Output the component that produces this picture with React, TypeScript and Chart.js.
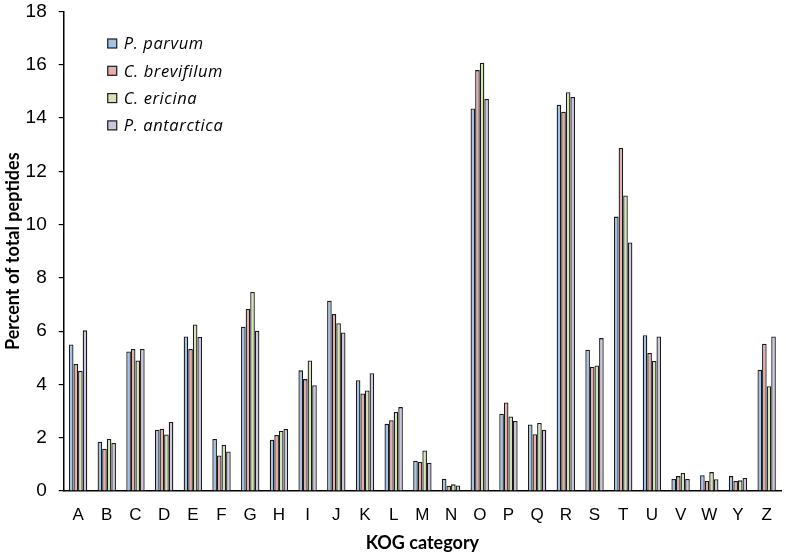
import React, { useEffect, useRef } from "react";
import { Chart, registerables } from "chart.js";

Chart.register(...registerables);

const categories = ["A","B","C","D","E","F","G","H","I","J","K","L","M","N","O","P","Q","R","S","T","U","V","W","Y","Z"];
const seriesNames = ["P. parvum", "C. brevifilum", "C. ericina", "P. antarctica"];
const pParvum = [5.5,1.85,5.24,2.3,5.8,1.95,6.17,1.92,4.53,7.14,4.16,2.52,1.14,0.46,14.36,2.9,2.5,14.5,5.3,10.3,5.85,0.45,0.59,0.56,4.55];
const cBrevifilum = [4.77,1.59,5.33,2.34,5.33,1.33,6.83,2.1,4.2,6.64,3.66,2.66,1.09,0.2,15.8,3.32,2.13,14.24,4.66,12.88,5.18,0.56,0.38,0.38,5.53];
const cEricina = [4.51,1.95,4.9,2.12,6.25,1.74,7.47,2.26,4.9,6.3,3.77,2.97,1.52,0.25,16.08,2.8,2.55,14.97,4.71,11.09,4.88,0.68,0.71,0.4,3.93];
const pAntarctica = [6.03,1.8,5.33,2.59,5.78,1.48,6.02,2.33,3.97,5.95,4.42,3.15,1.06,0.21,14.72,2.63,2.3,14.79,5.74,9.33,5.8,0.45,0.44,0.49,5.8];
const fillColors = ["#a3c2e6", "#e3aeac", "#d5e4b5", "#cec6df"];

const legendPlugin = {
  id: "insideLegend",
  afterDraw(chart: any) {
    const ctx = chart.ctx;
    const area = chart.chartArea;
    ctx.save();
    ctx.font = "italic 16.5px 'Open Sans', Lato, sans-serif";
    try { (ctx as any).letterSpacing = "0.6px"; } catch (e) {}
    ctx.textBaseline = "middle";
    chart.data.datasets.forEach((ds: any, i: number) => {
      const y = area.top + 32 + i * 27.3;
      const x = area.left + 44;
      ctx.fillStyle = ds.backgroundColor;
      ctx.fillRect(x, y - 4.5, 9, 9);
      ctx.strokeStyle = "#1a1a1a";
      ctx.lineWidth = 1.2;
      ctx.strokeRect(x, y - 4.5, 9, 9);
      ctx.fillStyle = "#000";
      ctx.fillText(ds.label, x + 16, y + 1);
    });
    ctx.restore();
  },
};

export default function App() {
  const ref = useRef<HTMLCanvasElement | null>(null);
  useEffect(() => {
    document.body.style.margin = "0";
    const series = [pParvum, cBrevifilum, cEricina, pAntarctica];
    const chart = new Chart(ref.current as HTMLCanvasElement, {
      type: "bar",
      data: {
        labels: categories,
        datasets: series.map((d, i) => ({
          label: seriesNames[i],
          data: d,
          backgroundColor: fillColors[i],
          borderColor: "#1a1a1a",
          borderWidth: 1.3,
          categoryPercentage: 0.64,
          barPercentage: 1,
        })),
      },
      options: {
        animation: false,
        responsive: false,
        maintainAspectRatio: false,
        layout: { padding: { top: 0, right: 5, left: 0, bottom: 4 } },
        plugins: { legend: { display: false }, tooltip: { enabled: false } },
        scales: {
          x: {
            grid: { display: true, drawOnChartArea: false, drawTicks: false },
            border: { color: "#000", width: 1.5 },
            ticks: { color: "#000", font: { family: "'Liberation Sans', Arial, sans-serif", size: 17 }, padding: 14 },
            title: { display: true, text: "KOG category", color: "#000", font: { family: "Lato, 'Open Sans', sans-serif", size: 18, weight: "bold" }, padding: { top: -7, bottom: 0 } },
          },
          y: {
            min: 0,
            max: 18,
            ticks: { stepSize: 2, color: "#000", font: { family: "'Liberation Sans', Arial, sans-serif", size: 19, lineHeight: 1 }, padding: 12 },
            grid: { display: true, drawOnChartArea: false, drawTicks: true, tickLength: 5, color: "#000", lineWidth: 1.2 },
            border: { color: "#000", width: 1.5 },
            title: { display: true, text: "Percent of total peptides", color: "#000", font: { family: "Lato, 'Open Sans', sans-serif", size: 18, weight: "bold" }, padding: { top: 6, bottom: -10 } },
          },
        },
      },
      plugins: [legendPlugin],
    });
    return () => chart.destroy();
  }, []);
  return (
    <div style={{ position: "relative", width: 786, height: 558, overflow: "hidden" }}>
      <canvas ref={ref} width={790} height={568} style={{ position: "absolute", left: -4, top: -10, width: 790, height: 568 }} />
    </div>
  );
}
